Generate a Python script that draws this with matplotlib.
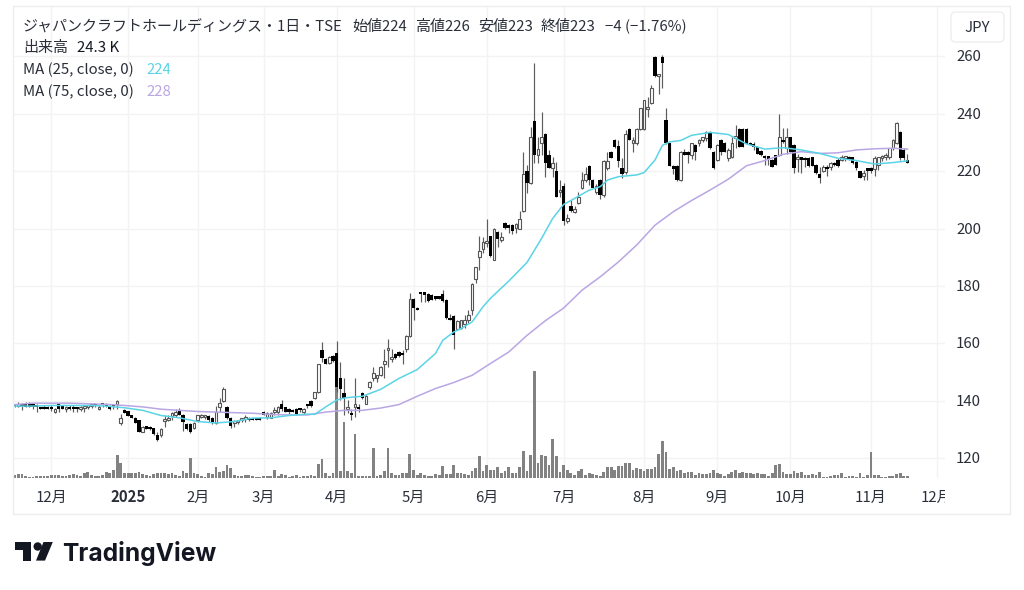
import numpy as np
import matplotlib
matplotlib.use("Agg")
import matplotlib.pyplot as plt
from matplotlib.patches import Polygon, Circle, Rectangle, FancyBboxPatch
from matplotlib.transforms import Bbox

plt.rcParams['font.family'] = ['Noto Sans CJK JP', 'DejaVu Sans']

# ── daily prices ───────────────────────────────────────────────
opens = [
    138.8,138.3,138.3,138.7,138.7,138.1,137.8,137.8,137.8,137.8,
    137.8,136,139,137.4,137,137.9,137.3,137.2,137,137.5,
    138,138.1,139,137,138.5,138.8,138,137.8,138.8,132.3,
    136.9,136.4,135,134.1,133.2,129.2,131,131,130.4,128,
    128,133,133.4,134.6,135,136.9,135.2,132,132,130.4,
    133.2,134.3,134.5,134.6,134.1,132.3,138,140,137.9,134.2,
    132.4,132.6,133.2,133.6,134.1,134.1,134,134.1,136,134.5,
    134.1,136,136,138.8,137.8,137,136.8,137,136.8,136,
    138.2,140,141.1,143.1,157.8,154.7,153.3,155.7,156.8,147.8,
    142.9,137,135.1,137.8,137.9,142.9,139,145,147.8,147.8,
    149,152.8,157.8,154.6,156.5,157,156,157.9,162.6,175.5,
    172.2,177.3,177.2,177.4,177,176.4,176.4,177.4,175.3,168.8,
    169.5,165.2,165.5,166.9,168.3,171.8,182.4,190.2,193,195,
    197.4,189.2,198.9,196,202,201.2,201.2,200.2,200,206.2,
    220,216,237.6,225.6,229.7,232.9,225.6,221,220,212.8,
    215,202.7,207.9,205.8,208.8,214,217,221.8,217,212.8,
    217,211.7,221,226.8,230.9,228.8,221,219.8,234.8,229.7,
    229.7,234.8,234.8,241.5,243.9,259.9,253,259.7,237.8,229.7,
    221.8,221.8,216.9,226.8,226.8,225.6,229.1,229.7,230.8,231.4,
    233.8,226.8,223.9,230.9,229.7,224.5,224.8,231.5,234.8,234.8,
    234.8,229.9,228.6,228.5,227,225.3,224.6,223.9,225.6,225.6,
    231,228,231.8,229.1,224.2,224.8,224.5,224.7,224.8,222.1,
    219,220.2,221.6,221.6,222.7,223.9,223.9,224.5,224.8,224.8,
    223.3,220,218.5,221,221,220.6,222,224.5,225,224.8,
    228,229.7,233.8,227.5,224,
]
highs = [
    139,139.7,139.4,139.6,139.5,139,138.8,138,138.7,138.3,
    138.6,137.5,139.3,138,138.2,138.5,138.5,137.9,138.2,138,
    138.5,138.6,139.4,138.6,139,139.3,138.4,138.6,140.3,135.3,
    137.1,136.6,135.2,134.3,133.4,131.2,131.4,131.3,130.7,129.2,
    130.5,135.2,135,136,137,137.4,135.5,132.4,132.3,132.6,
    135.2,135.5,135.2,135,134.4,138.2,141,145,138.2,134.4,
    133.5,133.5,134,135,134.5,134.2,134.2,134.3,136.4,136,
    136,138,138.2,140.2,138,137.6,137.2,137.5,137.5,137.4,
    139,140.4,143.1,153,160.5,155,155.5,156,160.8,153.5,
    147.8,140.4,137,147.8,139,143.2,141.9,146.9,151.8,149,
    152,157.9,161.7,157.9,156.8,157.3,157.6,162.8,177.6,175.8,
    172.8,177.6,177.7,177.6,177.3,176.7,176.7,178.5,175.6,170.4,
    169.8,168.2,168.3,170,171.8,181,186.7,197.4,197,203.2,
    197.6,200.3,199.2,198.8,202.3,201.6,201.5,202,206.2,226.8,
    222,235.5,257.6,232,240.7,233.2,227.5,225,223.3,216.9,
    215.8,205,210,208,212.8,219.8,221.6,222,217.3,215.5,
    217.3,224,226.8,227,231.1,231,224.5,234.3,235,232,
    234.9,242,244.9,246,250,260.2,254,260.6,241.9,229.9,
    222,222,227,227.6,227,229.8,229.3,231.2,232,234,
    234,227,229.3,231.1,230.1,228,232,236,235,235,
    235,230.2,230,228.7,227.3,225.6,225,224.1,225.8,239.9,
    234.9,234.9,232,229.3,226,225,224.9,225,225,222.5,
    221.5,222,222,223.2,223.2,224.5,225.6,225.3,225.2,225,
    223.5,220.2,220.5,221.2,221.4,225.2,225,225.6,226.5,228.2,
    231.2,237,234,228,226,
]
lows = [
    137.9,137.9,136.8,137.9,137.9,137,136.2,137,137,137,
    136.5,135.7,136.2,137,136.2,136.8,136,136.3,136.5,136.2,
    137.2,137.5,137.9,136.8,137.8,137.8,136.9,137,137,131.5,
    135.7,134.6,133.9,132.2,129.1,129,130.2,130,128.2,125.9,
    127.5,130.8,133,133.5,134.5,135,129.5,130,128.9,130.2,
    132.5,134,133.8,132.8,131.8,132,136,139.5,133.6,130.4,
    131,131.8,132.6,132.5,133,133.3,133.4,133.3,135,133.8,
    133.9,135.2,135,136.6,136,135.5,136,135,136,135.6,
    137.5,138,140.5,142.8,153.5,152.9,153,153.6,143,140.2,
    135,135.8,133.5,134.4,136,140.7,138.8,144.2,146.8,146.6,
    148.8,148,151.8,153.5,154.6,155.2,153,157,162.4,168,
    171.5,174.5,174.5,174.5,175.2,175.3,175.4,174.5,168.6,168,
    158.2,164.8,165,165.5,167,170,181,185.5,191.5,193.5,
    190.2,189,193.7,195.5,200,198.6,198.3,198.5,199.8,205.8,
    212.3,215.5,222.7,223,225.6,218,221,218,210.9,211,
    201.2,202,205.8,205.5,208.5,213.8,216.2,215.2,214,212,
    210.2,211,220.4,224.5,228.2,221.5,217.5,219,230.7,226.8,
    229,234.5,234.5,238.8,243.5,252.8,247,248.9,229.5,221.8,
    219,216.5,216.7,225.5,222.7,224.4,224,228.8,230,230.6,
    227.6,220.8,223.5,225.5,226.6,223.5,224.5,228,228.3,228.3,
    229.3,229,227.5,226,225.4,222.1,222.1,221.5,222,225.4,
    229.8,226,226.6,219.2,219.8,219.2,221.5,221.5,221.7,219,
    216,219.8,218.3,220.5,221.8,221.5,223.4,223.5,223.8,222.5,
    220.5,217.5,216.8,217,219.5,218.5,220.5,223.5,224,224.2,
    227.5,229.3,224,223.8,223,
]
closes = [
    138.1,138.4,138.2,138,138,138,137.7,137,137,137,
    137,137,137,137.3,137.8,137,137.2,137.1,138,137.6,
    138,138.2,138.1,138,138.4,138.1,137.1,137.7,139.9,134.1,
    135.7,134.8,134,132.4,129.3,130.9,130.3,130.2,128.4,126.3,
    130.3,133.4,133.5,135.7,136,135,132.6,130.3,129.1,132.2,
    135,135.2,134.6,133.2,132.3,136.1,139.2,144,134.2,131.1,
    132.6,132.8,133.3,133.8,133.3,133.3,133.4,133.4,135,135.8,
    135.8,136.1,137.9,137,136.2,136.2,136.1,135.3,136.7,137,
    138.1,138.2,143.1,153,155,153,155.2,153.8,144.8,144.3,
    141,137.2,135,138.8,137,141,141.7,146.6,149.7,148.9,
    151.8,153.8,158,154.8,155,155.5,155.9,162.6,175.5,172.2,
    171.6,177.1,177,174.7,175.3,175.4,175.5,174.7,168.8,168.2,
    162.9,167.8,168,168,169.8,180.7,186.5,192.2,195.2,195.4,
    190.4,200,196.3,197,200.3,200.1,199.3,201.5,203.2,218.9,
    216,231.8,225.6,227.8,231.8,222.7,221,222.7,210.9,213,
    202.7,203.8,206,206.9,210.9,217,219,217,214,215,
    211.7,223.7,223.7,224.7,228.3,223.7,218.9,232.9,230.9,230.8,
    234.8,241.9,244.8,242,248.9,253,253.9,257.8,229.7,221.8,
    220.6,216.9,226.8,225.6,225.6,229.7,226.8,231,231.8,233.8,
    228,221,229.1,226.8,226.8,227.4,229.9,231.8,228.5,228.6,
    229.5,229.1,228.5,226,225.6,224.5,224.4,221.5,222.1,231.8,
    230,231.8,226.8,221,224.5,223.9,223.9,221.8,221.8,219.2,
    217.8,221.6,220.7,222.7,222.1,221.8,224.8,224.6,223.9,222.7,
    221,217.8,218.7,220,220,224.5,224.8,225,225.1,228,
    230.9,236.9,224.5,224.5,223,
]
# volume in thousands of shares
volumes = [
    35,42,45,21,10,14,21,24,21,24,
    31,28,31,17,21,35,42,35,24,49,
    59,31,24,24,28,66,52,87,243,156,
    52,49,49,52,62,42,35,17,42,52,
    49,52,42,52,31,17,76,52,208,52,
    45,24,10,52,45,115,59,69,132,104,
    28,24,17,28,31,21,10,10,24,24,
    17,80,17,45,31,10,17,28,7,17,
    17,28,17,149,201,52,24,52,947,69,
    579,76,56,461,17,17,17,17,312,17,
    35,76,312,52,28,28,56,49,250,87,
    28,49,28,21,17,42,28,125,45,45,
    132,49,49,42,28,76,104,226,69,139,
    87,80,115,49,76,115,49,56,111,278,
    76,243,1117,156,243,229,139,409,229,62,
    132,87,52,28,69,94,35,52,45,35,
    24,59,115,111,83,128,128,153,153,83,
    104,94,69,94,94,115,250,389,267,94,
    115,69,87,52,59,59,35,49,42,42,
    49,80,56,42,24,42,59,80,52,59,
    52,49,42,49,42,42,17,52,132,146,
    59,42,42,69,49,62,35,35,42,28,
    59,14,7,17,35,28,49,7,24,17,
    10,49,10,28,271,35,28,14,10,24,
    24,38,52,17,24,
]

# moving averages, read every few sessions
ma25_days = [0,5,10,15,20,25,30,35,40,45,50,55,60,65,70,75,80,82,85,88,90,93,95,100,105,110,115,117,120,
             122,125,128,130,135,140,144,147,150,153,157,160,162,165,170,172,175,177,179,182,185,190,195,
             200,205,210,215,220,225,230,235,240,244]
ma25 = [138.2,138.2,138.4,138.4,138.4,138.2,137.6,136.7,134.9,134.1,132.8,132.3,132.8,134,134.1,
        134.9,135.4,135.3,137.9,140.3,141,141.4,141.6,144,147.8,150.9,156.5,161.1,164,
        165.2,167.5,172.8,175.7,181.7,188.2,196.6,203.5,208.4,210.5,213.4,214.6,216.9,218.1,218.7,219.5,
        223.9,229,230.2,230.7,232.5,233.5,232.8,
        229.5,227.7,228.2,227.4,226.2,224.5,223.7,222.5,223,223.6]
ma75_days = [0,5,10,15,20,25,30,35,40,45,50,55,60,65,70,75,80,85,90,95,100,105,110,115,120,
             125,130,135,140,145,150,155,160,165,170,175,180,185,190,195,200,205,210,215,220,
             225,230,235,240,244]
ma75 = [138.7,139.2,139.2,139.2,139,138.8,138.4,137.9,137.1,136.7,136.3,136.1,135.9,135.7,135.3,
        135.1,135.1,136.1,136.7,136.7,137.5,138.7,141.6,144.3,146.4,148.9,153,157,162.8,167.9,
        172.3,178.5,183.2,188.4,194.3,201.2,205.9,209.8,213.4,217.2,221.9,223.7,225.9,226.8,226.2,
        226.4,227.4,227.8,228,227.7]

price_ticks = [120, 140, 160, 180, 200, 220, 240, 260]
month_pos = [10, 31, 50, 68, 88, 109, 129, 150, 172, 192, 212, 234, 252]
month_labels = ["12月", "2025", "2月", "3月", "4月", "5月", "6月", "7月", "8月", "9月", "10月", "11月", "12月"]

assert len(opens) == len(highs) == len(lows) == len(closes) == len(volumes) == 245
assert len(ma25_days) == len(ma25) and len(ma75_days) == len(ma75)

W, H = 1024, 590
LEFT, RIGHT, TOP, BOTTOM = 13, 945, 6, 478
PX_PER_DAY = 3.659
X0 = 14.7            # pixel of the first session
PX_PER_YEN = 2.871
Y120 = 458.3         # pixel of price 120
PX_PER_K = 1 / 10.4  # volume scale

TEXT = "#2a2e39"
GRID = "#f3f3f3"
FRAME = "#eeeeee"
TEAL = "#5ad4e6"
PURPLE = "#b9a6e3"
FS = 10.8

fig = plt.figure(figsize=(W / 100, H / 100), dpi=100, facecolor="white")
ax = fig.add_axes([LEFT / W, 1 - BOTTOM / H, (RIGHT - LEFT) / W, (BOTTOM - TOP) / H])
ax.set_xlim((LEFT - X0) / PX_PER_DAY, (RIGHT - X0) / PX_PER_DAY)
ax.set_ylim(120 - (BOTTOM - Y120) / PX_PER_YEN, 120 + (Y120 - TOP) / PX_PER_YEN)
for s in ax.spines.values():
    s.set_visible(False)
ax.set_yticks(price_ticks)
ax.set_xticks(month_pos)
ax.grid(True, color=GRID, lw=1)
ax.set_axisbelow(True)

# ── volume on its own scale, same pane ─────────────────────────
days = np.arange(len(closes))
ax_vol = ax.twinx()
ax_vol.set_ylim(0, (BOTTOM - TOP) / PX_PER_K)
ax_vol.axis("off")
ax_vol.bar(days, volumes, width=0.76, color="#828282", zorder=1)

# ── candles ────────────────────────────────────────────────────
o = np.array(opens)
h = np.array(highs)
l = np.array(lows)
c = np.array(closes)
up = c >= o

ax_px = ax.twinx()
ax_px.set_ylim(ax.get_ylim())
ax_px.axis("off")
ax_px.vlines(days, l, h, color="#5c5c5c", lw=0.85, zorder=2)
ax_px.bar(days[up], np.maximum(c[up] - o[up], 0.7), bottom=o[up], width=0.72,
          facecolor="white", edgecolor="#555555", lw=0.8, zorder=3)
ax_px.bar(days[~up], np.maximum(o[~up] - c[~up], 0.8), bottom=c[~up], width=0.9,
          color="black", lw=0, zorder=3)
ax_px.plot(ma75_days, ma75, color=PURPLE, lw=1.1, zorder=4)
ax_px.plot(ma25_days, ma25, color=TEAL, lw=1.1, zorder=5)

# twinx turns the left ticks back on, so clear them here
ax.tick_params(left=False, right=False, bottom=False, labelleft=False, labelbottom=False)

# ── everything else in pixel coordinates ───────────────────────
ov = fig.add_axes([0, 0, 1, 1], facecolor="none")
ov.set_xlim(0, W)
ov.set_ylim(H, 0)
ov.axis("off")

ov.add_patch(Rectangle((LEFT, TOP), 1010 - LEFT, 514 - TOP, fill=False, ec=FRAME, lw=1))
ov.add_patch(FancyBboxPatch((954, 15), 47, 24, boxstyle="round,pad=3,rounding_size=5",
                            fc="white", ec=FRAME, lw=1))
ov.text(977.5, 28, "JPY", ha="center", va="center", fontsize=FS, color=TEXT)

for p in price_ticks:
    ov.text(968.5, Y120 - (p - 120) * PX_PER_YEN + 1, str(p), ha="center", va="center",
            fontsize=FS, color=TEXT)

clip = Bbox([[LEFT, 0], [RIGHT, H]])
for d, lab in zip(month_pos, month_labels):
    t = ov.text(X0 + d * PX_PER_DAY, 497.5, lab, ha="center", va="center", fontsize=FS,
                color=TEXT, fontweight="bold" if lab == "2025" else "normal")
    t.set_clip_box(clip)
    t.set_clip_on(True)

# legend
ov.text(23, 27, "ジャパンクラフトホールディングス・1日・TSE", ha="left", va="center",
        fontsize=FS, color=TEXT)
for x, s in [(352, "始値224"), (415, "高値226"), (478, "安値223"), (541, "終値223"), (605, "−4 (−1.76%)")]:
    ov.text(x, 27, s, ha="left", va="center", fontsize=FS, color=TEXT)
ov.text(23, 48, "出来高", ha="left", va="center", fontsize=FS, color=TEXT)
ov.text(77, 48, "24.3 K", ha="left", va="center", fontsize=FS, color="#131722")
ov.text(23, 70, "MA (25, close, 0)", ha="left", va="center", fontsize=FS, color=TEXT)
ov.text(146, 70, "224", ha="left", va="center", fontsize=FS, color=TEAL)
ov.text(23, 92, "MA (75, close, 0)", ha="left", va="center", fontsize=FS, color=TEXT)
ov.text(146, 92, "228", ha="left", va="center", fontsize=FS, color=PURPLE)

# logo
ov.add_patch(Polygon([(15, 542), (30.7, 542), (30.7, 560.6), (22.7, 560.6), (22.7, 550), (15, 550)],
                     fc="#131722", ec="none"))
ov.add_patch(Circle((37.7, 546.5), 4.2, fc="#131722", ec="none"))
ov.add_patch(Polygon([(43.5, 542), (52.8, 542), (45, 560.6), (36, 560.6)], fc="#131722", ec="none"))
ov.text(62.5, 560.7, "TradingView", ha="left", va="baseline", fontsize=17.7, fontweight="bold",
        family="Inter", color="#131722")

fig.savefig("out.png", dpi=100, facecolor="white")
